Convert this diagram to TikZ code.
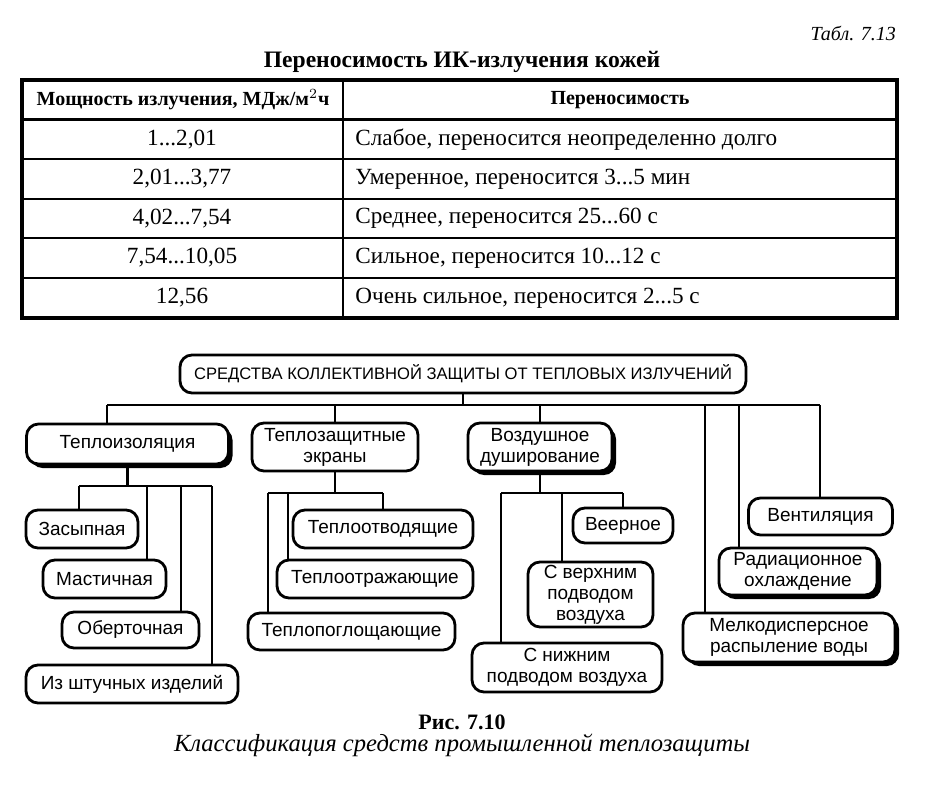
\documentclass[tikz,border=0pt]{standalone}
\usepackage{fontspec}
\setmainfont{Liberation Serif}
\setsansfont{Liberation Sans}
\usetikzlibrary{positioning, shadows}

\tikzset{
  sbox/.style={draw, line width=1.4pt, rounded corners=6pt, fill=white, align=center,
    inner sep=1pt, font=\sffamily\fontsize{9.5}{10.5}\selectfont},
  shd/.style={drop shadow={shadow xshift=2pt, shadow yshift=-2pt, fill=black, opacity=1}},
  link/.style={line width=1.4pt},
  cell/.style={font=\fontsize{11.6}{14}\selectfont, inner sep=0pt},
}

\begin{document}
\begin{tikzpicture}[x=0.5pt, y=-0.5pt]
    \useasboundingbox (0,0) rectangle (944,797);

    % Table caption and title
    \node[font=\itshape\fontsize{10}{12}\selectfont, anchor=east] (tabno) at (903,33) {Табл. 7.13};
    \node[font=\bfseries\fontsize{11.8}{14}\selectfont] (title) at (462,62) {Переносимость ИК-излучения кожей};

    % Table frame
    \draw[line width=2pt] (22,80) rectangle (897,318);
    \draw[line width=1.5pt] (22,120) -- (897,120);
    \foreach \y in {159,199,238,278}
        \draw[line width=1pt] (22,\y) -- (897,\y);
    \draw[line width=1pt] (343,80) -- (343,318);

    % Table header
    \node[cell, font=\bfseries\fontsize{10}{12}\selectfont] (h1) at (183,100) {Мощность излучения, МДж/м$^2$ч};
    \node[cell, font=\bfseries\fontsize{10}{12}\selectfont] (h2) at (620,100) {Переносимость};

    % Table rows
    \foreach \y/\p/\t [count=\i] in {
        139.5/{1...2,01}/{Слабое, переносится неопределенно долго},
        179/{2,01...3,77}/{Умеренное, переносится 3...5 мин},
        218.5/{4,02...7,54}/{Среднее, переносится 25...60 с},
        258/{7,54...10,05}/{Сильное, переносится 10...12 с},
        298/{12,56}/{Очень сильное, переносится 2...5 с}} {
        \node[cell] (p\i) at (182,\y) {\p};
        \node[cell, anchor=west] (t\i) at (355,\y) {\t};
    }

    % Top of the scheme
    \node[sbox, minimum width=283pt, minimum height=19pt, font=\sffamily\fontsize{8.3}{10}\selectfont] (top) at (463,374)
        {СРЕДСТВА КОЛЛЕКТИВНОЙ ЗАЩИТЫ ОТ ТЕПЛОВЫХ ИЗЛУЧЕНИЙ};

    % First level
    \node[sbox, shd, minimum width=101pt, minimum height=20pt] (tiso) at (127.5,444) {Теплоизоляция};
    \node[sbox, minimum width=83pt, minimum height=24pt] (ekr) at (335,447) {Теплозащитные\\экраны};
    \node[sbox, shd, minimum width=72pt, minimum height=24pt] (dush) at (540,447) {Воздушное\\душирование};
    \node[sbox, minimum width=72pt, minimum height=18.5pt] (vent) at (820.5,516.5) {Вентиляция};
    \node[sbox, shd, minimum width=79pt, minimum height=23.5pt] (rad) at (798,571.5) {Радиационное\\охлаждение};
    \node[sbox, shd, minimum width=106pt, minimum height=24.5pt] (melk) at (789,637.5) {Мелкодисперсное\\распыление воды};

    % Insulation kinds
    \node[sbox, minimum width=56pt, minimum height=19pt] (zas) at (82,529) {Засыпная};
    \node[sbox, minimum width=61.5pt, minimum height=19pt] (mast) at (104.5,579) {Мастичная};
    \node[sbox, minimum width=68.5pt, minimum height=18pt] (obert) at (130.5,630) {Оберточная};
    \node[sbox, minimum width=106pt, minimum height=19pt] (izsht) at (132,684) {Из штучных изделий};

    % Screen kinds
    \node[sbox, minimum width=90pt, minimum height=19pt] (otv) at (383,529) {Теплоотводящие};
    \node[sbox, minimum width=98pt, minimum height=19pt] (otr) at (375,579) {Теплоотражающие};
    \node[sbox, minimum width=103.5pt, minimum height=18.5pt] (pogl) at (351.5,631.5) {Теплопоглощающие};

    % Air shower kinds
    \node[sbox, minimum width=50pt, minimum height=17.5pt] (veer) at (623,525.5) {Веерное};
    \node[sbox, minimum width=62.5pt, minimum height=32.5pt] (verh) at (590.5,594.5) {С верхним\\подводом\\воздуха};
    \node[sbox, minimum width=95pt, minimum height=24.5pt] (nizh) at (567,667.5) {С нижним\\подводом воздуха};

    % Main bus
    \coordinate (busL) at (107,405);
    \coordinate (busR) at (820,405);
    \coordinate (v1) at (705,405);
    \coordinate (v2) at (739,405);
    \draw[link] (top.south) -- (top.south |- busL);
    \draw[link] (busL) -- (busR);
    \draw[link] (busL) -- (busL |- tiso.north);
    \draw[link] (ekr.north) -- (ekr.north |- busL);
    \draw[link] (dush.north) -- (dush.north |- busL);
    \draw[link] (v1) -- (v1 |- melk.north);
    \draw[link] (v2) -- (v2 |- rad.north);
    \draw[link] (busR) -- (busR |- vent.north);

    % Insulation branch
    \coordinate (a) at (79,486);
    \draw[link] (tiso.south) -- (tiso.south |- a);
    \draw[link] (a) -- (212,486);
    \foreach \x/\n in {79/zas, 147/mast, 181/obert, 212/izsht}
        \draw[link] (\x,486) -- (\x,486 |- \n.north);

    % Screen branch
    \coordinate (b) at (268,493);
    \draw[link] (ekr.south) -- (ekr.south |- b);
    \draw[link] (b) -- (383,493);
    \foreach \x/\n in {268/pogl, 288/otr, 383/otv}
        \draw[link] (\x,493) -- (\x,493 |- \n.north);

    % Air shower branch
    \coordinate (c) at (501,493);
    \draw[link] (dush.south) -- (dush.south |- c);
    \draw[link] (c) -- (623,493);
    \foreach \x/\n in {501/nizh, 562/verh, 623/veer}
        \draw[link] (\x,493) -- (\x,493 |- \n.north);

    % Figure caption
    \node[font=\bfseries\fontsize{11}{13}\selectfont] (fig) at (462,722) {Рис. 7.10};
    \node[font=\itshape\fontsize{12.3}{14}\selectfont] (figcap) at (462,745) {Классификация средств промышленной теплозащиты};
\end{tikzpicture}
\end{document}
